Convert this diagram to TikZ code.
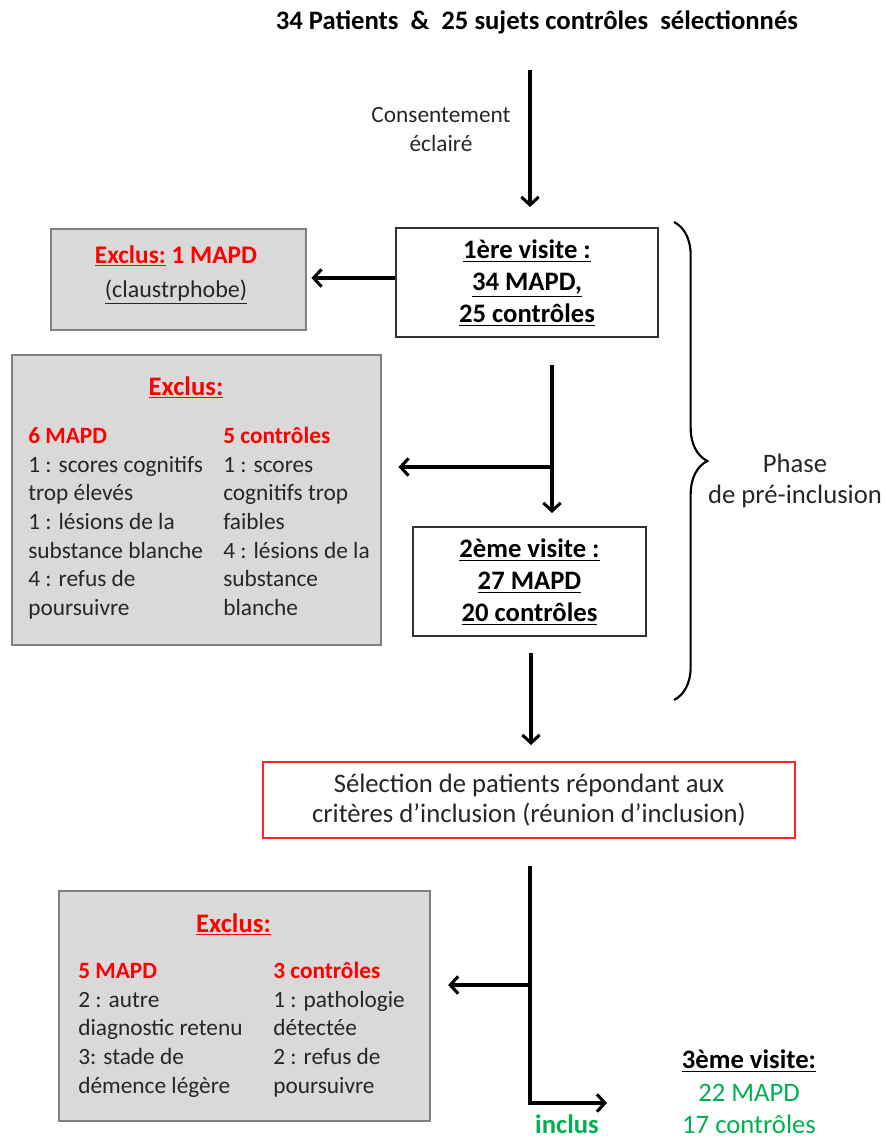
\documentclass[tikz,border=0pt]{standalone}
\usepackage{fontspec}
\setmainfont{Carlito}
\usetikzlibrary{arrows.meta,decorations.pathreplacing}
\definecolor{exred}{HTML}{FF0000}
\definecolor{ingreen}{HTML}{00B050}
\definecolor{boxgray}{HTML}{D9D9D9}
\definecolor{edgegray}{HTML}{808080}
\definecolor{txt}{HTML}{262626}
\begin{document}
\begin{tikzpicture}[x=0.75pt,y=-0.75pt,
  body/.style={font=\fontsize{17.5}{21.5}\selectfont, text=txt, inner sep=0pt, align=left, anchor=north west},
  boldtxt/.style={font=\fontsize{20}{24}\selectfont\bfseries, inner sep=0pt, align=center},
  graybox/.style={draw=edgegray, line width=2.2pt, fill=boxgray, inner sep=0pt},
  whitebox/.style={draw=black!80, line width=0.9pt, fill=white, inner sep=0pt},
  redbox/.style={draw=exred!85, line width=1pt, fill=white, inner sep=0pt},
  arr/.style={line width=2.3pt, -{Straight Barb[length=6pt,width=13pt]}}
]
\useasboundingbox (0,0) rectangle (887,1139);

% title and consent
\node[boldtxt] (title) at (537,22) {34 Patients \ \& \ 25 sujets contrôles \ sélectionnés};
\node[font=\fontsize{17.5}{21.75}\selectfont, text=txt, align=center, inner sep=0pt] (consent) at (441,130) {Consentement\\éclairé};

% boxes
\node[whitebox, minimum width=262*0.75pt, minimum height=109*0.75pt] (v1) at (527,282.5) {};
\node[boldtxt] (v1t) at (527,283) {\underline{1ère visite :}\\ \underline{34 MAPD,}\\ \underline{25 contrôles}};

\node[graybox, minimum width=255*0.75pt, minimum height=101*0.75pt] (ex1) at (178.5,279.5) {};
\node[font=\fontsize{18}{25.5}\selectfont, text=txt, align=center, inner sep=0pt] (ex1t) at (176,275)
  {\textcolor{exred}{\fontsize{19}{25.5}\selectfont\bfseries\underline{Exclus:} 1 MAPD}\\ \underline{(claustrphobe)}};

\node[graybox, minimum width=369*0.75pt, minimum height=290*0.75pt] (ex2) at (196.5,500) {};
\node[boldtxt, text=exred, anchor=base] (ex2h) at (186,395) {\underline{Exclus:}};
\node[body] (ex2l) at (28,423) {\strut\textcolor{exred}{\bfseries 6 MAPD}\\1 : scores cognitifs\\trop élevés\\1 : lésions de la\\substance blanche\\4 : refus de\\poursuivre};
\node[body] (ex2r) at (223,423) {\strut\textcolor{exred}{\bfseries 5 contrôles}\\1 : scores\\cognitifs trop\\faibles\\4 : lésions de la\\substance\\blanche};

\node[whitebox, minimum width=233*0.75pt, minimum height=109*0.75pt] (v2) at (529.5,581.5) {};
\node[boldtxt] (v2t) at (529.5,582) {\underline{2ème visite :}\\ \underline{27 MAPD}\\ \underline{20 contrôles}};

\node[redbox, minimum width=532*0.75pt, minimum height=76*0.75pt] (sel) at (529,800) {};
\node[font=\fontsize{20}{22.5}\selectfont, text=txt, align=center, inner sep=0pt] (selt) at (529,800)
  {Sélection de patients répondant aux\\critères d’inclusion (réunion d’inclusion)};

\node[graybox, minimum width=371*0.75pt, minimum height=230*0.75pt] (ex3) at (244.5,1006) {};
\node[boldtxt, text=exred, anchor=base] (ex3h) at (233.5,932) {\underline{Exclus:}};
\node[body] (ex3l) at (78,958) {\strut\textcolor{exred}{\bfseries 5 MAPD}\\2 : autre\\diagnostic retenu\\3: stade de\\démence légère};
\node[body] (ex3r) at (273,958) {\strut\textcolor{exred}{\bfseries 3 contrôles}\\1 : pathologie\\détectée\\2 : refus de\\poursuivre};

\node[font=\fontsize{20}{23}\selectfont, text=txt, align=center, inner sep=0pt] (phase) at (795,481) {Phase\\de pré-inclusion};

\node[font=\fontsize{20}{24.4}\selectfont, align=center, inner sep=0pt] (v3) at (749,1092)
  {\textbf{\underline{3ème visite:}}\\ \textcolor{ingreen}{22 MAPD}\\ \textcolor{ingreen}{17 contrôles}};
\node[boldtxt, text=ingreen] (inclus) at (567,1124) {inclus};

% connectors
\coordinate (a1s) at (530,70);
\coordinate (a1e) at (530,207);
\draw[arr] (a1s) -- (a1e);
\draw[arr, shorten >=3pt] (v1.west |- 0,278) -- (ex1.east |- 0,278);

\coordinate (a2s) at (552,365);
\coordinate (a2e) at (552,513);
\coordinate (a2b) at (552,467);
\draw[arr] (a2s) -- (a2e);
\draw[arr, shorten >=12pt] (a2b) -- (a2b -| ex2.east);

\coordinate (a3s) at (531,653);
\coordinate (a3e) at (531,745);
\draw[arr] (a3s) -- (a3e);

\coordinate (a4s) at (530,866);
\coordinate (a4c) at (530,1103);
\coordinate (a4e) at (607,1103);
\coordinate (a4b) at (530,985);
\draw[arr] (a4s) -- (a4c) -- (a4e);
\draw[arr, shorten >=12.5pt] (a4b) -- (a4b -| ex3.east);

% brace
\coordinate (bt) at (674,222);
\coordinate (bb) at (674,700);
\draw[line width=1.6pt, decorate, decoration={brace, amplitude=25pt}] (bt) -- (bb);
\end{tikzpicture}
\end{document}
